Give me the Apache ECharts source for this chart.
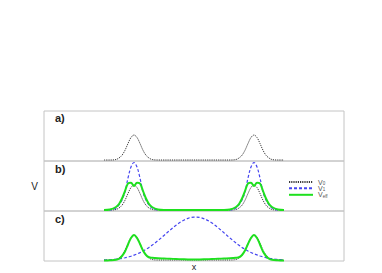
<!DOCTYPE html>
<html>
<head>
<meta charset="utf-8">
<script src="https://cdn.jsdelivr.net/npm/echarts@6/dist/echarts.min.js"></script>
<style>
html,body{margin:0;padding:0;background:#fff;}
#c{width:382px;height:273px;}
</style>
</head>
<body>
<div id="c"></div>
<script>
// x sample positions (shared by all curves)
var xs = [-3.0,-2.8,-2.6,-2.5,-2.4,-2.3,-2.2,-2.1,-2.0,-1.9,-1.8,-1.7,-1.6,-1.5,-1.4,
          -1.2,-1.0,-0.8,-0.6,-0.4,-0.2,0.0,0.2,0.4,0.6,0.8,1.0,1.2,
          1.4,1.5,1.6,1.7,1.8,1.9,2.0,2.1,2.2,2.3,2.4,2.5,2.6,2.8,3.0];

// V0 (panels a, b, c)
var v0 = [0.02,0.02,0.03,0.06,0.115,0.215,0.35,0.47,0.52,0.47,0.35,0.215,0.115,0.06,0.03,
          0.02,0.02,0.02,0.02,0.02,0.02,0.02,0.02,0.02,0.02,0.02,0.02,0.02,
          0.03,0.06,0.115,0.215,0.35,0.47,0.52,0.47,0.35,0.215,0.115,0.06,0.03,0.02,0.02];

// V1 in panel b
var v1b = [0.02,0.02,0.06,0.12,0.22,0.38,0.66,0.88,0.97,0.88,0.66,0.38,0.22,0.12,0.06,
           0.02,0.02,0.02,0.02,0.02,0.02,0.02,0.02,0.02,0.02,0.02,0.02,0.02,
           0.06,0.12,0.22,0.38,0.66,0.88,0.97,0.88,0.66,0.38,0.22,0.12,0.06,0.02,0.02];

// Veff in panel b
var veffb = [0.02,0.03,0.08,0.14,0.25,0.40,0.55,0.565,0.50,0.565,0.55,0.40,0.25,0.14,0.08,
             0.03,0.02,0.02,0.02,0.02,0.02,0.02,0.02,0.02,0.02,0.02,0.02,0.03,
             0.08,0.14,0.25,0.40,0.55,0.565,0.50,0.565,0.55,0.40,0.25,0.14,0.08,0.03,0.02];

// V1 in panel c
var v1c = [0.02,0.025,0.036,0.044,0.053,0.065,0.08,0.095,0.117,0.14,0.167,0.198,0.233,0.272,0.314,
           0.408,0.511,0.616,0.715,0.796,0.853,0.879,0.87,0.829,0.758,0.667,0.564,0.459,
           0.36,0.314,0.272,0.235,0.2,0.17,0.145,0.122,0.1,0.083,0.068,0.056,0.046,0.03,0.02];

// Veff in panel c
var veffc = [0.01,0.015,0.025,0.045,0.10,0.19,0.33,0.46,0.52,0.46,0.34,0.21,0.12,0.075,0.065,
             0.055,0.05,0.045,0.04,0.035,0.03,0.03,0.03,0.035,0.04,0.045,0.05,0.055,
             0.065,0.075,0.12,0.21,0.34,0.46,0.52,0.46,0.33,0.19,0.10,0.045,0.025,0.015,0.01];

var panelLabels = ['a)', 'b)', 'c)'];
var legendNames = ['V0', 'V1', 'Veff'];
var legendSubs = {V0: '0', V1: '1', Veff: 'eff'};

function pairs(ys) { return xs.map(function (x, i) { return [x, ys[i]]; }); }

var C0 = '#3a3a3a', C1 = '#4646f0', C2 = '#1ee01e';
function mk(name, ys, idx) {
  var st = name === 'V0' ? {color: C0, width: 1, type: [1.2, 1]}
         : name === 'V1' ? {color: C1, width: 1.2, type: [3, 2]}
         : {color: C2, width: 2, type: 'solid'};
  return {name: name, type: 'line', xAxisIndex: idx, yAxisIndex: idx, data: pairs(ys),
          symbol: 'none', smooth: 0.35, lineStyle: st, itemStyle: {color: st.color}, silent: true, animation: false};
}

var tops = [111, 161, 211];
var grids = tops.map(function (t) {
  return {left: 44, width: 300, top: t, height: 50, show: true, borderColor: '#c4c4c4', borderWidth: 1, backgroundColor: 'transparent'};
});
var xAxes = tops.map(function (t, i) {
  return {gridIndex: i, type: 'value', min: -5, max: 5,
          axisLine: {show: false}, axisTick: {show: false}, axisLabel: {show: false}, splitLine: {show: false},
          name: i === 2 ? 'x' : '', nameLocation: 'middle', nameGap: 1,
          nameTextStyle: {fontSize: 9, color: '#222222', fontFamily: 'Liberation Sans'}};
});
var yAxes = tops.map(function (t, i) {
  return {gridIndex: i, type: 'value', min: 0, max: 1,
          axisLine: {show: false}, axisTick: {show: false}, axisLabel: {show: false}, splitLine: {show: false},
          name: i === 1 ? 'V' : '', nameLocation: 'middle', nameGap: 6, nameRotate: 0,
          nameTextStyle: {fontSize: 10, color: '#222222', fontFamily: 'Liberation Sans', padding: [0, 0, 6, 0]}};
});

var titleTops = [112.5, 163, 213.5];
var titles = panelLabels.map(function (s, i) {
  return {text: s, left: 55, top: titleTops[i], padding: 0,
          textStyle: {fontSize: 11, fontWeight: 'bold', color: '#222', fontFamily: 'Liberation Sans'}};
});

var legTops = [178, 184.3, 190.8];
var legends = legendNames.map(function (n, i) {
  return {data: [n], left: 288, top: legTops[i], padding: 0, itemWidth: 24, itemHeight: 6, itemGap: 0,
          selectedMode: false,
          itemStyle: {opacity: 0},
          formatter: function (name) { return '{m|V}{s|' + legendSubs[name] + '}'; },
          textStyle: {color: '#555', fontFamily: 'Liberation Sans', lineHeight: 6,
            rich: {m: {fontSize: 7, lineHeight: 6, color: '#555'}, s: {fontSize: 4.5, lineHeight: 6, color: '#555', padding: [3, 0, 0, 0]}}}};
});

var chart = echarts.init(document.getElementById('c'), null, {renderer: 'svg', width: 382, height: 273});
chart.setOption({
  animation: false,
  backgroundColor: '#ffffff',
  title: titles,
  legend: legends,
  grid: grids,
  xAxis: xAxes,
  yAxis: yAxes,
  series: [
    mk('V0', v0, 0),
    mk('V0', v0, 1), mk('V1', v1b, 1), mk('Veff', veffb, 1),
    mk('V0', v0, 2), mk('V1', v1c, 2), mk('Veff', veffc, 2)
  ]
});
</script>
</body>
</html>
